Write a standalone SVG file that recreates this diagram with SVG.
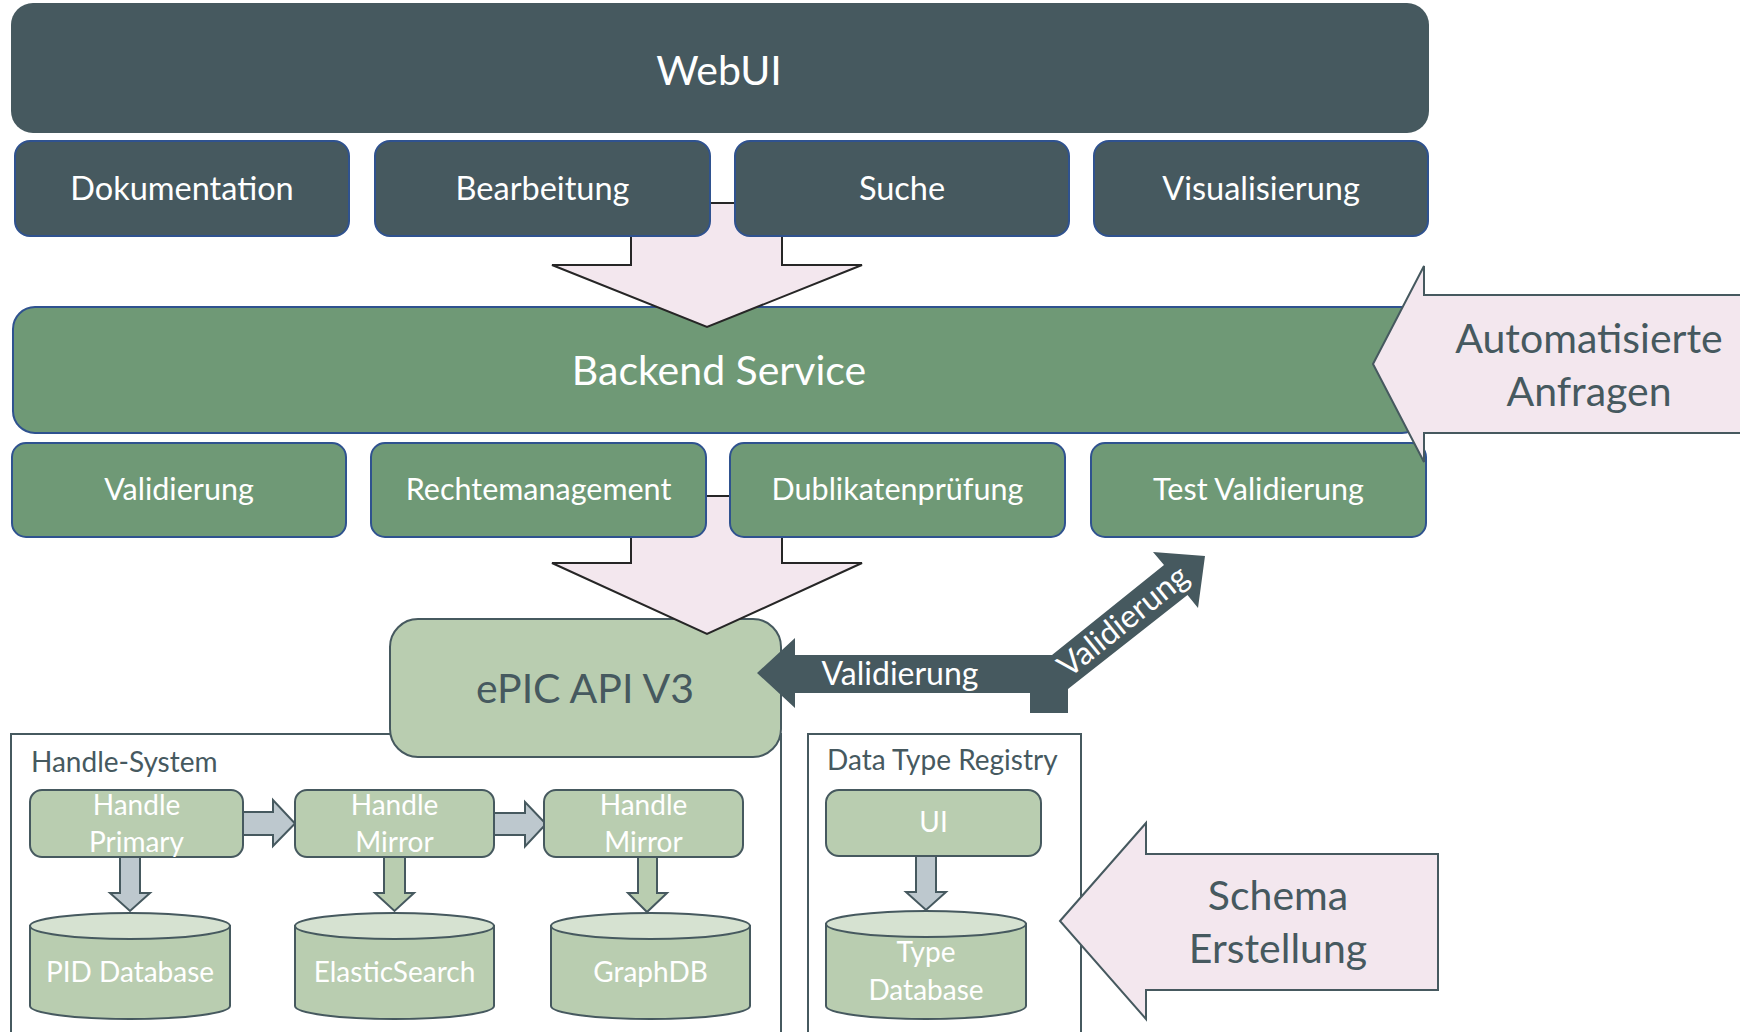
<svg xmlns="http://www.w3.org/2000/svg" width="1740" height="1032" viewBox="0 0 1740 1032">
<style>
text{font-family:Lato,"Open Sans","Liberation Sans",sans-serif;text-anchor:middle}
.w{fill:#ffffff}
.d{fill:#46595f}
.big{font-size:41px}
.r1{font-size:32.5px}
.r2{font-size:30.5px}
.vl{font-size:32px}
.sm{font-size:28px}
.lbl{font-size:28px;text-anchor:start}
.slate{fill:#46595f}
.rowbox{fill:#46595f;stroke:#2f528f;stroke-width:2}
.grn{fill:#6f9976;stroke:#2f528f;stroke-width:2}
.lg{fill:#b9cdb0;stroke:#46595f;stroke-width:2}
.cap{fill:#d6e2d1;stroke:#46595f;stroke-width:2}
.pink{fill:#f3e7ee;stroke:#46595f;stroke-width:2}
.down{fill:#f3e7ee;stroke:#262626;stroke-width:2}
.gray{fill:#bdc8ce;stroke:#46595f;stroke-width:2}
.garr{fill:#b9cdb0;stroke:#46595f;stroke-width:2}
.cont{fill:#ffffff;stroke:#46595f;stroke-width:2}
</style>
<rect width="1740" height="1032" fill="#ffffff"/>

<g id="handle-system">
<rect class="cont" x="11" y="734" width="770" height="320"/>
<text class="lbl d" x="31" y="772">Handle-System</text>
</g>
<g id="data-type-registry">
<rect class="cont" x="808" y="734" width="273" height="320"/>
<text class="lbl d" x="827" y="770">Data Type Registry</text>
</g>

<g id="backend-service">
<rect class="grn" x="13" y="307" width="1411" height="126" rx="22"/>
<text class="big w" x="719" y="385">Backend Service</text>
</g>

<g id="epic-api">
<rect class="lg" x="390" y="619" width="391" height="138" rx="28"/>
<text class="big d" x="585" y="703">ePIC API V3</text>
</g>

<g id="pid-database">
<path class="lg" d="M30,926 L30,1006 A100,13 0 0 0 230,1006 L230,926 Z"/>
<ellipse class="cap" cx="130" cy="926" rx="100" ry="13"/>
<text class="sm w" x="130" y="982">PID Database</text>
</g>
<g id="elasticsearch">
<path class="lg" d="M295,926 L295,1006 A99.5,13 0 0 0 494,1006 L494,926 Z"/>
<ellipse class="cap" cx="394.5" cy="926" rx="99.5" ry="13"/>
<text class="sm w" x="394.5" y="982">ElasticSearch</text>
</g>
<g id="graphdb">
<path class="lg" d="M551,926 L551,1006 A99.5,13 0 0 0 750,1006 L750,926 Z"/>
<ellipse class="cap" cx="650.5" cy="926" rx="99.5" ry="13"/>
<text class="sm w" x="650.5" y="982">GraphDB</text>
</g>
<g id="type-database">
<path class="lg" d="M826,924 L826,1006 A100,13 0 0 0 1026,1006 L1026,924 Z"/>
<ellipse class="cap" cx="926" cy="924" rx="100" ry="13"/>
<text class="sm w" x="926" y="962">Type</text>
<text class="sm w" x="926" y="1000">Database</text>
</g>

<g id="connectors">
<polygon class="down" points="631,203 782,203 782,265 862,265 707,327 552,265 631,265"/>
<polygon class="down" points="631,496 782,496 782,563 862,563 707,634 552,563 631,563"/>
<polygon class="slate" points="757,673 795,638 795,655 1052,655 1164,565 1153,552 1205,556 1198,608 1187.5,595 1068,689 1068,713 1030,713 1030,693 795,693 795,708"/>
<text class="vl w" x="900" y="685">Validierung</text>
<text class="vl w" transform="translate(1123,621) rotate(-38.8)" x="0" y="11">Validierung</text>
<polygon class="gray" points="242,812 273,812 273,800 295,823.5 273,846 273,835 242,835"/>
<polygon class="gray" points="494,813 525,813 525,802 546,824 525,846.5 525,835 494,835"/>
<polygon class="gray" points="120,857 140,857 140,893 150,893 130,911 110,893 120,893"/>
<polygon class="garr" points="384,857 405,857 405,893 414,893 394.5,911 375,893 384,893"/>
<polygon class="garr" points="638,857 657,857 657,893 667,893 647,912 628,893 638,893"/>
<polygon class="gray" points="916,856 936,856 936,892 946,892 926,910 906,892 916,892"/>
</g>

<g id="webui">
<rect class="slate" x="11" y="3" width="1418" height="130" rx="22"/>
<text class="big w" x="719" y="85">WebUI</text>
</g>
<g id="dokumentation">
<rect class="rowbox" x="15" y="141" width="334" height="95" rx="15"/>
<text class="r1 w" x="182" y="200">Dokumentation</text>
</g>
<g id="bearbeitung">
<rect class="rowbox" x="375" y="141" width="335" height="95" rx="15"/>
<text class="r1 w" x="542.5" y="200">Bearbeitung</text>
</g>
<g id="suche">
<rect class="rowbox" x="735" y="141" width="334" height="95" rx="15"/>
<text class="r1 w" x="902" y="200">Suche</text>
</g>
<g id="visualisierung">
<rect class="rowbox" x="1094" y="141" width="334" height="95" rx="15"/>
<text class="r1 w" x="1261" y="200">Visualisierung</text>
</g>

<g id="validierung">
<rect class="grn" x="12" y="443" width="334" height="94" rx="14"/>
<text class="r2 w" x="179" y="500">Validierung</text>
</g>
<g id="rechtemanagement">
<rect class="grn" x="371" y="443" width="335" height="94" rx="14"/>
<text class="r2 w" x="538.5" y="500">Rechtemanagement</text>
</g>
<g id="dublikatenpruefung">
<rect class="grn" x="730" y="443" width="335" height="94" rx="14"/>
<text class="r2 w" x="897.5" y="500">Dublikatenprüfung</text>
</g>
<g id="test-validierung">
<rect class="grn" x="1091" y="443" width="335" height="94" rx="14"/>
<text class="r2 w" x="1258.5" y="500">Test Validierung</text>
</g>

<g id="handle-primary">
<rect class="lg" x="30" y="790" width="213" height="67" rx="12"/>
<text class="sm w" x="136.5" y="815">Handle</text>
<text class="sm w" x="136.5" y="852">Primary</text>
</g>
<g id="handle-mirror-1">
<rect class="lg" x="295" y="790" width="199" height="67" rx="12"/>
<text class="sm w" x="394.5" y="815">Handle</text>
<text class="sm w" x="394.5" y="852">Mirror</text>
</g>
<g id="handle-mirror-2">
<rect class="lg" x="544" y="790" width="199" height="67" rx="12"/>
<text class="sm w" x="643.5" y="815">Handle</text>
<text class="sm w" x="643.5" y="852">Mirror</text>
</g>
<g id="ui">
<rect class="lg" x="826" y="790" width="215" height="66" rx="13"/>
<text class="sm w" x="933.5" y="832">UI</text>
</g>

<g id="automatisierte-anfragen">
<polygon class="pink" points="1373,364 1424,266 1424,295 1752,295 1752,433 1424,433 1424,462"/>
<text class="big d" x="1589" y="353">Automatisierte</text>
<text class="big d" x="1589" y="406">Anfragen</text>
</g>
<g id="schema-erstellung">
<polygon class="pink" points="1060,921 1146,823 1146,854 1438,854 1438,990 1146,990 1146,1019"/>
<text class="big d" x="1278" y="910">Schema</text>
<text class="big d" x="1278" y="963">Erstellung</text>
</g>
</svg>
